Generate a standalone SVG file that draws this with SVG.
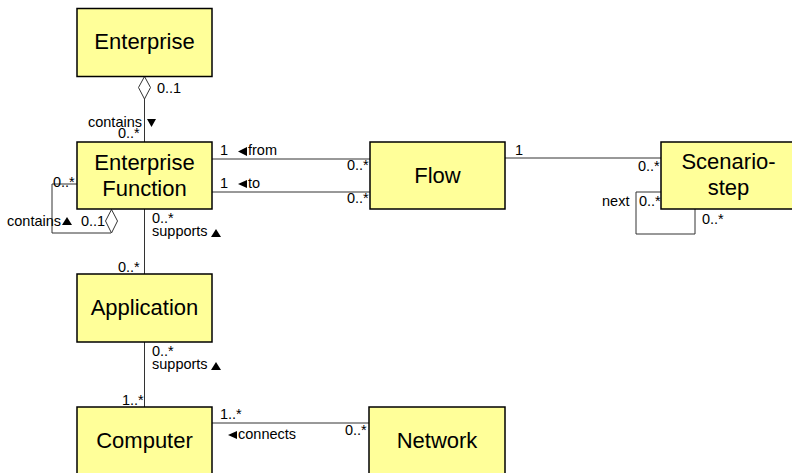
<svg xmlns="http://www.w3.org/2000/svg" width="792" height="473" viewBox="0 0 792 473">
<style>
.box{fill:#ffff99;stroke:#000;stroke-width:1.5}
.nt{font-family:"Liberation Sans",Arial,sans-serif;font-size:22px;fill:#000;text-anchor:middle}
.lb{font-family:"Liberation Sans",Arial,sans-serif;font-size:14.5px;fill:#000}
.ln{fill:none;stroke:#333;stroke-width:1}
.tri{fill:#000}
.dia{fill:#fff;stroke:#333;stroke-width:1}
</style>
<rect width="792" height="473" fill="#fff"/>
<g id="connectors">
<line class="ln" x1="144.5" y1="99" x2="144.5" y2="142"/>
<polygon class="dia" points="144.5,76.5 150.5,87.5 144.5,99 138.5,87.5"/>
<polyline class="ln" points="77,184 52,184 52,233 111,233"/>
<polygon class="dia" points="111.5,209.5 117.5,221 111.5,233 105.5,221"/>
<line class="ln" x1="144.5" y1="209" x2="144.5" y2="274"/>
<line class="ln" x1="144.5" y1="342" x2="144.5" y2="407"/>
<line class="ln" x1="212" y1="423" x2="369" y2="423"/>
<line class="ln" x1="212" y1="159" x2="370" y2="159"/>
<line class="ln" x1="212" y1="192" x2="370" y2="192"/>
<line class="ln" x1="505" y1="158" x2="661" y2="158"/>
<polyline class="ln" points="661,192 636,192 636,234 695,234 695,209"/>
<polygon class="tri" points="147,119 156,119 151.5,127"/>
<polygon class="tri" points="62,225 72,225 67,217"/>
<polygon class="tri" points="211,237 221,237 216,229"/>
<polygon class="tri" points="211,370 221,370 216,362"/>
<polygon class="tri" points="247,147 247,156 238,151.5"/>
<polygon class="tri" points="247,180 247,188 238,184"/>
<polygon class="tri" points="237,431 237,439 228,435"/>
<text class="lb" x="157" y="93">0..1</text>
<text class="lb" x="142" y="127" text-anchor="end">contains</text>
<text class="lb" x="118" y="138">0..*</text>
<text class="lb" x="53" y="187">0..*</text>
<text class="lb" x="7" y="226">contains</text>
<text class="lb" x="81" y="226">0..1</text>
<text class="lb" x="152" y="223">0..*</text>
<text class="lb" x="152" y="236">supports</text>
<text class="lb" x="118" y="272">0..*</text>
<text class="lb" x="152" y="356">0..*</text>
<text class="lb" x="152" y="369">supports</text>
<text class="lb" x="122" y="405">1..*</text>
<text class="lb" x="220" y="419">1..*</text>
<text class="lb" x="238" y="439">connects</text>
<text class="lb" x="345" y="435">0..*</text>
<text class="lb" x="220" y="155">1</text>
<text class="lb" x="248" y="155">from</text>
<text class="lb" x="347" y="170">0..*</text>
<text class="lb" x="220" y="188">1</text>
<text class="lb" x="248" y="188">to</text>
<text class="lb" x="347" y="203">0..*</text>
<text class="lb" x="515" y="155">1</text>
<text class="lb" x="638" y="171">0..*</text>
<text class="lb" x="602" y="206">next</text>
<text class="lb" x="639" y="206">0..*</text>
<text class="lb" x="702" y="224">0..*</text>
</g>
<g id="enterprise"><rect class="box" x="77" y="8.5" width="135" height="68"/><text class="nt" x="144.5" y="49">Enterprise</text></g>
<g id="enterprise-function"><rect class="box" x="77" y="142" width="135" height="67"/><text class="nt" x="144.5" y="170">Enterprise</text><text class="nt" x="144.5" y="196">Function</text></g>
<g id="flow"><rect class="box" x="370" y="142" width="135" height="67"/><text class="nt" x="437.5" y="183">Flow</text></g>
<g id="scenario-step"><rect class="box" x="661" y="142" width="135" height="67"/><text class="nt" x="728.5" y="169">Scenario-</text><text class="nt" x="728.5" y="195">step</text></g>
<g id="application"><rect class="box" x="77" y="274" width="135" height="68"/><text class="nt" x="144.5" y="315">Application</text></g>
<g id="computer"><rect class="box" x="77" y="407" width="135" height="68"/><text class="nt" x="144.5" y="448">Computer</text></g>
<g id="network"><rect class="box" x="369" y="407" width="136" height="68"/><text class="nt" x="437" y="448">Network</text></g>
</svg>
